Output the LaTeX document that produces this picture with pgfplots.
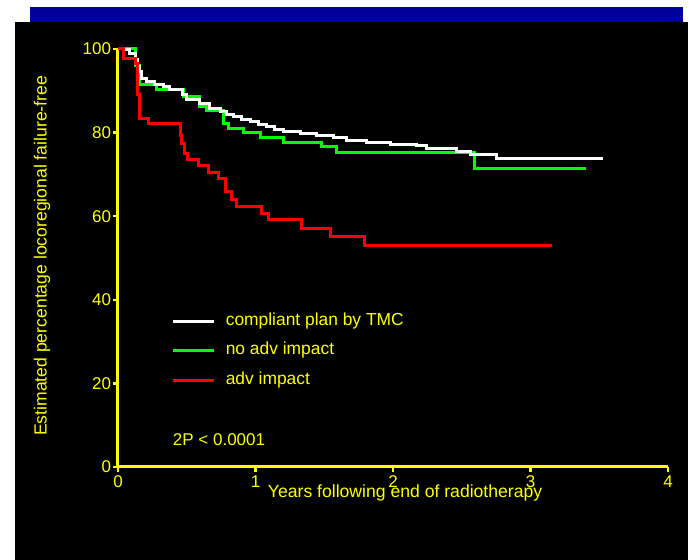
\documentclass[border=0pt]{standalone}
\usepackage{pgfplots}
\pgfplotsset{compat=1.18}
\usepackage{fontspec}
\setmainfont{Liberation Sans}
\definecolor{ylw}{RGB}{255,255,0}
\definecolor{topbar}{RGB}{0,0,155}
\definecolor{grn}{RGB}{0,255,0}
\definecolor{rd}{RGB}{255,0,0}
\begin{document}
\begin{tikzpicture}
\fill[white] (0pt,0pt) rectangle (689pt,560pt);
\fill[black] (15pt,0pt) rectangle (688pt,538pt);
\fill[topbar] (30pt,538pt) rectangle (683pt,553pt);
\begin{axis}[
  at={(118pt,93pt)}, anchor=south west,
  scale only axis, width=550pt, height=418pt,
  xmin=0, xmax=4, ymin=0, ymax=100,
  axis lines*=left,
  axis line style={draw=ylw, line width=3pt},
  xtick={0,1,2,3,4}, ytick={0,20,40,60,80,100},
  tick align=outside, major tick length=5pt,
  tick style={draw=ylw, line width=2.5pt},
  ticklabel style={text=ylw, font=\fontsize{17}{20}\selectfont},
  yticklabel style={xshift=1.5pt},
  /pgf/number format/assume math mode=true,
  xlabel={Years following end of radiotherapy},
  ylabel={Estimated percentage locoregional failure-free},
  label style={text=ylw, font=\fontsize{17.6}{21}\selectfont},
  xlabel style={at={(axis description cs:0.522,-0.061)}, anchor=center},
  ylabel style={at={(axis description cs:-0.138,0.505)}, anchor=center},
  clip=false,
  legend cell align=left,
  legend image code/.code={\draw[#1] (0pt,0pt) -- (41pt,0pt);},
  legend style={draw=none, fill=none, text=ylw,
    font=\fontsize{17.4}{21}\selectfont,
    at={(axis cs:0.39,36.8)}, anchor=north west,
    inner sep=0pt, row sep=13.5pt,
    nodes={inner sep=0pt, text height=12pt, text depth=4pt},
    /tikz/every odd column/.append style={column sep=10pt}},
]
\addlegendimage{white, line width=3pt}
\addlegendentry{compliant plan by TMC}
\addlegendimage{grn, line width=3pt}
\addlegendentry{no adv impact}
\addlegendimage{rd, line width=3pt}
\addlegendentry{adv impact}

% no adverse impact (green)
\addplot[const plot, grn, line width=3pt, forget plot] coordinates {
(0,100) (0.13,96) (0.16,91.4) (0.281,90.2) (0.475,88.6) (0.596,86.2)
(0.645,85.4) (0.766,82.2) (0.802,81.0) (0.911,80.0) (1.033,78.9)
(1.202,77.7) (1.481,76.6) (1.591,75.3) (2.596,71.5) (3.404,71.5)};

% compliant plan by TMC (white)
\addplot[const plot, white, line width=3pt, forget plot] coordinates {
(0,100) (0.04,99.8) (0.087,99.0) (0.124,97.4) (0.145,95.8) (0.160,94.6)
(0.172,93.0) (0.209,92.2) (0.269,91.4) (0.329,91.0) (0.378,90.2)
(0.470,89.0) (0.500,87.8) (0.596,87.0) (0.669,85.8) (0.742,85.0)
(0.790,84.4) (0.839,83.8) (0.900,83.2) (0.960,82.6) (1.020,82.0)
(1.081,81.4) (1.140,80.8) (1.202,80.2) (1.324,79.8) (1.445,79.4)
(1.566,78.9) (1.663,78.1) (1.808,77.6) (1.979,77.2) (2.172,76.8)
(2.245,76.2) (2.463,75.4) (2.560,74.8) (2.754,73.8) (3.530,73.8)};

% adverse impact (red)
\addplot[const plot, rd, line width=3pt, forget plot] coordinates {
(0,100) (0.04,97.7) (0.125,96.6) (0.14,89) (0.155,83.4) (0.221,82.2)
(0.451,79.4) (0.463,77.4) (0.487,75.0) (0.504,73.6) (0.584,72.2)
(0.657,70.4) (0.730,69.0) (0.785,65.9) (0.827,63.9) (0.863,62.3)
(1.045,60.7) (1.093,59.1) (1.336,57.0) (1.542,55.1) (1.796,53.0)
(3.154,53.0)};

\node[anchor=west, text=ylw, inner sep=0pt, font=\fontsize{17}{20}\selectfont]
  at (axis cs:0.398,6.5) {2P < 0.0001};
\end{axis}
\end{tikzpicture}
\end{document}
